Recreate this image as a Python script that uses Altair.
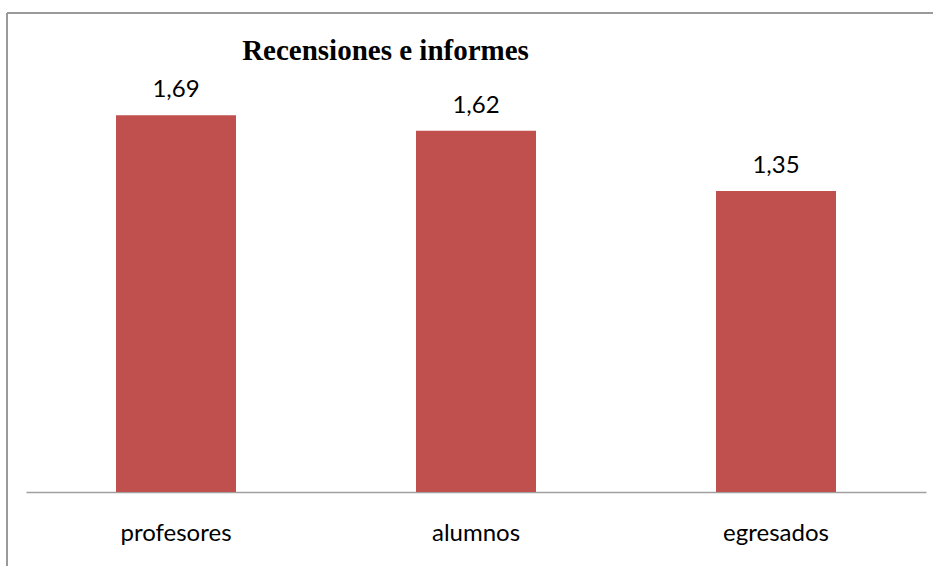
import altair as alt
import pandas as pd

# Average score per group
categories = ["profesores", "alumnos", "egresados"]
values = [1.69, 1.62, 1.35]
title_text = "Recensiones e informes"

df = pd.DataFrame({
    "grupo": categories,
    "valor": values,
    "etiqueta": [f"{v:.2f}".replace(".", ",") for v in values],
})

W, H = 900, 446
PAD = {"left": 26, "top": 46, "right": 7, "bottom": 74}

x = alt.X(
    "grupo:N",
    sort=categories,
    scale=alt.Scale(paddingInner=0.6, paddingOuter=0.3),
    axis=alt.Axis(
        title=None, ticks=False, labelAngle=0, labelFont="Lato",
        labelFontSize=24, labelColor="#000000", labelPadding=29,
        domainColor="#A0A0A0", domainWidth=1.5,
    ),
)
y = alt.Y("valor:Q", scale=alt.Scale(domain=[0, 2]), axis=None)

bars = alt.Chart(df).mark_bar(color="#C0504D").encode(x=x, y=y)

labels = alt.Chart(df).mark_text(
    font="Lato", fontSize=24, color="#000000", baseline="alphabetic", dy=-18
).encode(x=x, y=y, text="etiqueta:N")

# Chart heading, placed over the left part of the plot
heading = alt.Chart(pd.DataFrame({"t": [title_text]})).mark_text(
    font="Liberation Serif", fontSize=29, fontWeight="bold", color="#000000",
    align="center", baseline="alphabetic",
).encode(x=alt.value(359.5), y=alt.value(14), text="t:N")

# Outer frame of the chart area
frame_top = alt.Chart(df).mark_rule(color="#999999", strokeWidth=1.5).encode(
    x=alt.value(-19), x2=alt.value(W + 20), y=alt.value(-33)
)
frame_left = alt.Chart(df).mark_rule(color="#999999", strokeWidth=1.5).encode(
    x=alt.value(-19), y=alt.value(-33), y2=alt.value(H + 90)
)

chart = (
    alt.layer(frame_top, frame_left, bars, labels, heading)
    .properties(
        width=W,
        height=H,
        autosize=alt.AutoSizeParams(type="none"),
        padding=PAD,
    )
    .configure_view(stroke=None)
)

chart.save("out.html", embed_options={"renderer": "svg", "actions": False})
